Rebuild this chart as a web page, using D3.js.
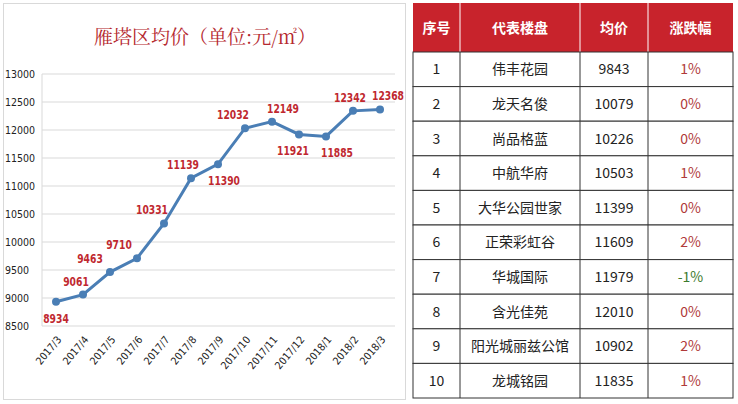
<!DOCTYPE html><html><head><meta charset="utf-8"><script src="https://d3js.org/d3.v7.min.js"></script>
<style>body{margin:0;background:#fff}svg{font-family:"Microsoft YaHei","Noto Sans CJK SC",sans-serif}</style></head><body><svg width="738" height="404"></svg>
<script>
const months=["2017/3","2017/4","2017/5","2017/6","2017/7","2017/8","2017/9","2017/10","2017/11","2017/12","2018/1","2018/2","2018/3"];
const prices=[8934,9061,9463,9710,10331,11139,11390,12032,12149,11921,11885,12342,12368];
const yTicks=[8500,9000,9500,10000,10500,11000,11500,12000,12500,13000];
const headers=["序号","代表楼盘","均价","涨跌幅"];
const names=["伟丰花园","龙天名俊","尚品格蓝","中航华府","大华公园世家","正荣彩虹谷","华城国际","含光佳苑","阳光城丽兹公馆","龙城铭园"];
const avg=[9843,10079,10226,10503,11399,11609,11979,12010,10902,11835];
const change=["1%","0%","0%","1%","0%","2%","-1%","0%","2%","1%"];
const below=new Set(["2017/3","2017/9","2017/12","2018/1"]);
// label nudges (px) to mimic reference placement
const labelDx=[0,-7,-20,-18,-12,-8,6,-12,11,-6,11,-3,8];

const svg=d3.select("svg");
svg.append("rect").attr("x",3.5).attr("y",3.5).attr("width",402).attr("height",396).attr("fill","#fff").attr("stroke","#d9d9d9");
svg.append("text").attr("x",205).attr("y",44).attr("text-anchor","middle").attr("fill","#b5282e").attr("font-size",19).attr("font-family","Noto Serif CJK SC,Noto Sans CJK SC,serif").text("雁塔区均价（单位:元/㎡）");
const y=d3.scaleLinear().domain([8500,13000]).range([326,74]);
const x=d3.scalePoint().domain(months).range([56,380]);
svg.append("g").selectAll("line").data(yTicks).join("line").attr("x1",42).attr("x2",395).attr("y1",d=>y(d)).attr("y2",d=>y(d)).attr("stroke","#d9d9d9");
svg.append("line").attr("x1",42).attr("x2",42).attr("y1",74).attr("y2",326).attr("stroke","#d9d9d9");
svg.append("g").selectAll("text").data(yTicks).join("text").attr("x",5).attr("y",d=>y(d)+4).attr("font-size",10.5).attr("font-family","DejaVu Sans Condensed,sans-serif").attr("fill","#222").text(d=>d);
svg.append("g").selectAll("text").data(months).join("text").attr("transform",d=>`translate(${x(d)+6},${340}) rotate(-50)`).attr("text-anchor","end").attr("font-size",10.5).attr("font-family","DejaVu Sans Condensed,sans-serif").attr("fill","#222").text(d=>d);
const line=d3.line().x((d,i)=>x(months[i])).y(d=>y(d));
svg.append("path").datum(prices).attr("d",line).attr("fill","none").attr("stroke","#4a7eb5").attr("stroke-width",3);
svg.append("g").selectAll("circle").data(prices).join("circle").attr("cx",(d,i)=>x(months[i])).attr("cy",d=>y(d)).attr("r",4).attr("fill","#4a7eb5");
svg.append("g").selectAll("text").data(prices).join("text")
  .attr("x",(d,i)=>x(months[i])+labelDx[i])
  .attr("y",(d,i)=>y(d)+(below.has(months[i])?21:-9)).attr("text-anchor","middle").attr("font-size",13).attr("font-weight","bold").attr("fill","#c0282f").attr("font-family","DejaVu Sans Condensed,sans-serif")
  .attr("textLength",d=>String(d).length*6.4).attr("lengthAdjust","spacingAndGlyphs").text(d=>d);

const cols=[413,460,580,648,733];
const tTop=3,hh=49,rh=(398-52)/10;
const t=svg.append("g");
t.append("rect").attr("x",cols[0]).attr("y",tTop).attr("width",cols[4]-cols[0]).attr("height",hh).attr("fill","#c8232c");
headers.forEach((h,i)=>t.append("text").attr("x",(cols[i]+cols[i+1])/2).attr("y",tTop+hh/2+5).attr("text-anchor","middle").attr("fill","#fff").attr("font-weight","bold").attr("font-size",14).text(h));
for(let i=1;i<4;i++)t.append("line").attr("x1",cols[i]).attr("x2",cols[i]).attr("y1",tTop).attr("y2",tTop+hh).attr("stroke","#fff");
names.forEach((nm,r)=>{
  const yy=52+r*rh;
  t.append("rect").attr("x",cols[0]).attr("y",yy).attr("width",cols[4]-cols[0]).attr("height",rh).attr("fill","#fff").attr("stroke","#333");
  for(let i=1;i<4;i++)t.append("line").attr("x1",cols[i]).attr("x2",cols[i]).attr("y1",yy).attr("y2",yy+rh).attr("stroke","#333");
  const vals=[r+1,nm,avg[r],change[r]];
  vals.forEach((v,i)=>t.append("text").attr("x",(cols[i]+cols[i+1])/2).attr("y",yy+rh/2+5).attr("text-anchor","middle").attr("font-size",14)
    .attr("fill",i===3?(String(v).startsWith("-")?"#3c7a2e":"#b03a3a"):"#222").text(v));
});
</script></body></html>
